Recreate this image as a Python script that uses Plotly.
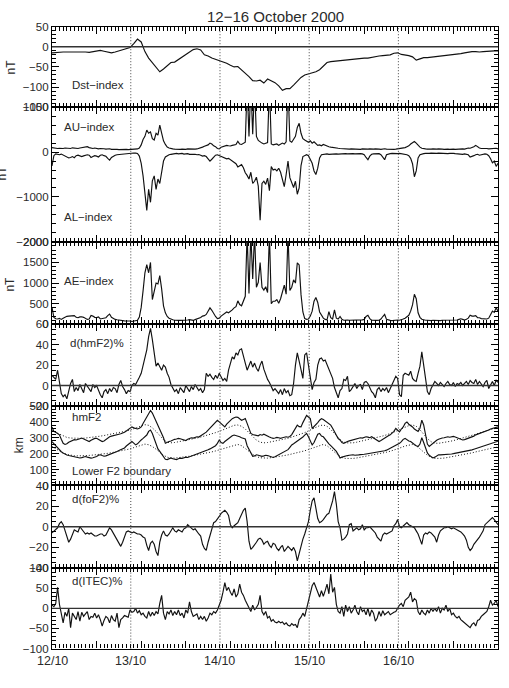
import numpy as np
import plotly.graph_objects as go

# ---------------- data (hours from axis start) ----------------
STEP = 0.5            # sampling of the noisy series, hours
day_lines = [21.2, 45.2, 69.2, 93.2]
day_labels = ["12/10", "13/10", "14/10", "15/10", "16/10"]
day_label_pos = [0, 21.2, 45.2, 69.2, 93.2]

# Dst, hourly
dst = [-15, -14, -14, -13, -13, -13, -12, -13, -12, -13,
       -14, -12, -10, -9, -11, -13, -15, -13, -10, -7,
       -4, -2, 8, 19, 12, -12, -28, -40, -52, -62,
       -55, -48, -39, -38, -32, -25, -19, -13, -7, -5,
       -8, -20, -23, -28, -31, -34, -37, -41, -46, -50,
       -49, -57, -64, -74, -84, -85, -83, -90, -80, -84,
       -89, -97, -108, -104, -104, -95, -85, -76, -70, -67,
       -64, -62, -57, -48, -39, -37, -36, -35, -33, -32,
       -32, -31, -30, -29, -28, -28, -26, -24, -23, -22,
       -21, -20, -16, -15, -19, -20, -22, -25, -33, -30,
       -27, -27, -26, -25, -24, -23, -22, -21, -20, -18,
       -17, -15, -13, -12, -12, -13, -12, -11, -11, -10,
       -10]

au = [100, 90, 95, 80, 85, 75, 80, 90, 85, 70, 80, 95, 85, 75, 80, 90, 100, 95, 110, 120,
      100, 85, 80, 90, 75, 70, 80, 85, 75, 65, 70, 75, 60, 65, 70, 60, 55, 60, 65, 55, 60, 55,
      60, 55, 65, 60, 70, 90,
      160, 280, 350, 490, 420, 450, 300, 270, 420, 380, 600, 420, 250, 170, 110, 90, 75, 70, 65,
      60, 55, 60, 65, 55, 60, 70, 65, 60, 55, 65, 70, 80, 95,
      110, 130, 140, 160, 200, 180, 140, 120, 80, 70,
      110, 125, 130, 150, 140, 135, 150, 160, 170, 240, 180, 170, 200, 220,
      1500, 350, 1500, 400, 1500, 350,
      260, 220, 200, 180, 190, 210, 1500, 180, 160, 170,
      180, 150, 170, 200, 180, 230, 1500, 250, 220, 290, 350, 550, 640, 420, 300, 270, 240, 220, 250, 200,
      230, 180, 150, 160, 140, 170, 150, 140, 120, 110, 100, 95, 90, 85, 80, 75, 70, 75, 70, 65,
      70, 65, 75, 70, 65, 60, 70, 65, 60, 65, 70, 60, 65, 70, 60, 65, 60, 70, 75, 65,
      60, 70, 65, 60, 65, 70, 75, 80, 90, 100,
      120, 140, 180, 210, 235, 200, 150, 110, 85, 70,
      70, 65, 60, 65, 70, 60, 65, 70, 60, 65, 60, 70, 65, 60, 70, 65, 60, 65, 70, 75,
      70, 65, 80, 90, 85, 100, 120, 150, 110, 90, 80, 85, 90, 80, 70, 75, 80, 90, 85, 70]

al = [-310, -80, -40, -50, -60, -45, -70, -90, -110, -130, -120, -100, -125, -80, -70, -90, -100, -85,
      -75, -60, -70, -120, -100, -80, -90, -110, -70, -60, -80, -95, -140, -180, -120, -90, -70, -60,
      -55, -40, -35, -30, -25, -30,
      -20, -15, -20, -25, -30, -90,
      -250, -530, -900, -1300, -830, -1120, -640, -530, -830, -600, -700, -440, -200, -110, -80, -60, -50, -40, -35,
      -30, -40, -35, -30, -45, -40, -35, -50, -45, -40, -50, -60, -55, -70,
      -90, -80, -100, -150, -200, -160, -110, -70, -60, -80,
      -90, -110, -130, -150, -140, -170, -200, -240, -260, -330, -300, -280, -350, -460,
      -520, -600, -450, -700, -650, -560,
      -760, -1520, -700, -650, -720, -580, -860, -320, -400, -380,
      -420, -360, -450, -600, -770, -500, -200, -570, -680, -790, -650, -940, -800, -300, -100, -70, -60, -80, -150, -250,
      -420, -500, -360, -130, -60, -50, -45, -40, -50, -45, -40, -35, -40, -45, -40, -35, -30, -35, -40, -35,
      -30, -35, -40, -35, -30, -35, -40, -60, -120, -170, -90, -50, -40, -35, -40, -35, -60, -120, -170, -60,
      -40, -35, -30, -35, -40, -35, -30, -35, -40, -50,
      -60, -80, -140, -260, -550, -420, -130, -60, -40, -35,
      -30, -35, -30, -25, -30, -35, -30, -25, -30, -35, -40, -30, -35, -30, -25, -30, -35, -40, -50, -60,
      -50, -40, -45, -60, -110, -100, -80, -60, -50, -70, -60, -50, -40, -50, -80, -150, -240, -200, -320, -250]

ae = [410, 170, 135, 130, 145, 120, 150, 180, 195, 200, 205, 195, 210, 170, 160, 180, 185, 170, 150, 120,
      130, 215, 200, 170, 165, 180, 130, 145, 155, 160, 210, 250, 170, 140, 120, 110, 100, 90, 95, 85, 80, 85,
      80, 70, 85, 85, 100, 180,
      410, 810, 1250, 1450, 1250, 1500, 600, 800, 1000, 980, 1180, 860, 450, 280, 190, 150, 125, 110, 100,
      90, 95, 95, 95, 100, 100, 105, 115, 105, 95, 115, 130, 135, 165,
      200, 210, 240, 310, 400, 340, 250, 190, 140, 150,
      200, 235, 260, 300, 280, 305, 350, 400, 430, 570, 480, 450, 550, 680,
      2200, 750, 2200, 1100, 2200, 900,
      1020, 1500, 900, 830, 910, 770, 2200, 500, 560, 560,
      600, 510, 620, 800, 950, 730, 2200, 820, 900, 1080, 1000, 1490, 1440, 720, 300, 140, 120, 130, 200, 320,
      560, 650, 530, 300, 210, 150, 120, 110, 310, 160, 130, 350, 150, 130, 190, 120, 100, 110, 105, 100,
      100, 100, 105, 100, 95, 100, 110, 120, 190, 220, 140, 100, 95, 100, 95, 100, 130, 190, 240, 120,
      100, 95, 90, 100, 110, 105, 100, 110, 130, 150,
      180, 220, 320, 470, 730, 620, 280, 170, 125, 105,
      100, 100, 90, 90, 100, 95, 95, 95, 90, 100, 100, 100, 100, 90, 95, 95, 95, 105, 120, 135,
      120, 105, 125, 150, 220, 200, 200, 210, 160, 160, 140, 135, 130, 130, 150, 225, 320, 290, 405, 320]

d_hmf2 = [10, 8, 6, 15, 5, -8, -11, -9, -13, -4, 2, 6, -6, -2, -5, 1, -3, -7, 2, -1,
          -4, -6, 1, -2, 0, -5, -9, -12, -6, -4, -8, -3, -6, -2, -3, -7, 1, 5, -1, -4, -8, -5,
          -6, 0, 2, 1, 4, 8,
          12, 19, 28, 35, 48, 56, 45, 30, 19, 22, 18, 15, 20, 18, 12, 8, 1, -3, -6,
          -4, -8, -2, -5, -7, 0, -3, -6, -1, -4, 1, -2, -5, -3,
          -7, -4, 12, 9, 11, 8, 6, 10, 7, 12,
          9, 5, 7, 4, 15, 22, 28, 26, 32, 30, 35, 36, 30, 22,
          15, 20, 24, 18, 22, 17,
          14, 20, 24, 16, 10, 6, 3, -1, -5, -3,
          -6, -8, -4, -9, -3, -7, -5, -10, -9, 2, 20, 32, 24, 15, 7, 30, 32, 20, 5, -4,
          3, 6, 20, 26, 27, 24, 25, 20, 15, 10, 7, -2, -8, -12, -5, -3, 6, 5, 9, -6,
          -4, -1, 2, -3, 0, 1, -4, 3, 4, 2, -2, -6, -8, -12, -4, -2, -6, -3, -5, -2,
          -7, -3, 1, 4, 9, 7, -9, -11, 10, 12,
          11, 10, 14, 7, 5, 4, 12, 19, 33, 22,
          7, -6, -9, -3, 1, 4, 2, 0, 3, 1, -1, 2, 4, 1, 0, 3, -1, 2, 1, 3,
          0, 2, 4, 1, 5, 3, 2, 6, 1, 4, 2, -1, 3, 5, -3, 1, 4, 0, 5, 3]

hmf2 = [368, 340, 335, 325, 318, 290, 265, 258, 262, 272, 276, 282, 288, 286, 292, 294, 298, 292, 285, 280,
        276, 284, 290, 296, 296, 288, 282, 276, 280, 290, 300, 306, 310, 312, 316, 318, 322, 325, 328, 335,
        342, 350,
        358, 368, 362, 358, 355, 360,
        368, 390, 410, 430, 452, 471, 455, 430, 400, 379, 350, 327, 300, 265, 272, 276, 280, 286, 290,
        292, 296, 294, 290, 285, 282, 290, 296, 300, 298, 302, 306, 304, 312,
        318, 327, 335, 348, 360, 368, 380, 395, 410, 400,
        389, 378, 368, 385, 399, 410, 420, 425, 430, 428, 420, 410, 415, 420,
        390, 358, 327, 320, 318, 317,
        312, 320, 316, 322, 318, 312, 305, 300, 296, 298,
        302, 300, 296, 300, 304, 306, 303, 308, 320, 337, 355, 379, 370, 368, 395, 420, 440, 430, 420, 358,
        370, 379, 395, 410, 420, 415, 405, 399, 390, 379, 360, 337, 315, 295, 286, 270, 265, 272, 276, 280,
        284, 286, 290, 294, 296, 300, 298, 302, 306, 304, 300, 306, 298, 290, 285, 276, 282, 290, 300, 306,
        312, 318, 327, 340, 358, 345, 337, 355, 368, 390,
        399, 385, 379, 368, 355, 348, 340, 360, 410, 380,
        310, 260, 245, 255, 268, 276, 284, 290, 296, 298, 300, 304, 306, 303, 306, 308, 305, 300, 296, 290,
        286, 288, 292, 296, 300, 305, 310, 318, 322, 327, 330, 334, 337, 342, 348, 355, 358, 362, 365, 368]

lower_f2 = [276, 262, 248, 235, 226, 212, 204, 196, 192, 188, 186, 183, 180, 176, 174, 173, 175, 178, 182, 178,
            174, 172, 174, 176, 182, 190, 193, 188, 184, 186, 190, 196, 200, 204, 208, 214, 220, 224, 230, 236,
            248, 258,
            265, 276, 266, 255, 262, 276,
            286, 296, 310, 317, 340, 348, 327, 290, 255, 230, 214, 195, 183, 165, 163, 170, 173, 168, 165,
            163, 168, 172, 170, 174, 178, 176, 180, 185, 190, 193, 196, 200, 204,
            208, 214, 220, 224, 230, 235, 240, 250, 265, 286,
            270, 265, 276, 285, 296, 306, 312, 317, 314, 308, 306, 300, 296, 292,
            250, 224, 200, 183, 186, 193,
            190, 186, 183, 186, 190, 188, 184, 180, 176, 180,
            186, 193, 198, 204, 210, 214, 225, 240, 255, 262, 270, 276, 285, 296, 305, 316, 327, 306, 280, 255,
            270, 296, 322, 327, 310, 306, 290, 276, 262, 250, 240, 225, 214, 195, 173, 178, 183, 186, 188, 190,
            192, 193, 190, 193, 192, 194, 193, 196, 198, 200, 202, 204, 203, 206, 208, 210, 212, 214, 218, 222,
            228, 235, 240, 248, 255, 262, 265, 275, 290, 296,
            286, 280, 276, 265, 258, 250, 245, 260, 300, 270,
            230, 205, 190, 180, 173, 178, 186, 193, 192, 193, 190, 193, 195, 196, 198, 200, 202, 204, 206, 208,
            210, 212, 214, 217, 220, 224, 228, 232, 236, 240, 245, 250, 254, 258, 262, 266, 270, 272, 274, 278]

# quiet-time medians, hourly (dotted)
hmf2_median = [345, 335, 322, 310, 302, 298,
               296, 295, 296, 298, 300, 303, 306, 310, 314, 318, 322, 327, 332, 337, 342,
               348, 356, 366, 376, 382, 378,
               362, 340, 312, 288, 272, 268,
               270, 274, 278, 283, 288, 293, 298, 304, 310, 317, 324, 332, 340, 350, 360,
               370, 378, 380, 372, 355, 330, 305,
               285, 272, 268, 270,
               274, 278, 283, 288, 294, 300, 307, 314, 322, 332, 343, 355, 367, 376,
               380, 372, 352, 325, 298, 278,
               268, 266, 268, 272, 277, 282, 287, 292, 298, 304, 311, 318, 326, 335, 345, 356, 367, 376,
               380, 372, 350, 322, 295, 275,
               266, 265, 268, 272, 277, 282, 288, 294, 300, 307, 314, 322, 330, 338, 346, 352, 357, 360]

lower_median = [245, 230, 215, 203, 195, 190,
                187, 186, 186, 187, 189, 191, 193, 196, 199, 202, 206, 210, 214, 219, 224,
                230, 238, 247, 255, 260, 256,
                245, 228, 208, 190, 178, 172,
                172, 174, 177, 180, 184, 188, 192, 196, 200, 205, 211, 217, 224, 232, 240,
                248, 255, 258, 250, 235, 215, 196,
                182, 174, 171, 172,
                175, 178, 182, 186, 190, 195, 200, 205, 211, 218, 226, 235, 245, 254,
                258, 250, 232, 210, 190, 176,
                170, 169, 170, 173, 177, 181, 185, 189, 193, 198, 203, 209, 215, 222, 230, 239, 248, 255,
                258, 250, 232, 210, 190, 176,
                170, 169, 171, 174, 178, 182, 186, 190, 195, 200, 205, 211, 217, 223, 229, 234, 238, 241]

d_fof2 = [-6, -4, -2, -1, 3, 5, 2, -4, -8, -15, -12, -7, -3, -4, -5, 0, -2, -4, -7, -6,
          -7, -6, -8, -9, -9, -8, -7, -7, -9, -8, -4, -1, -3, -6, -9, -12, -16, -19, -15, -10, -5, -4,
          -5, -6, -5, -6, -7, -7,
          -8, -10, -11, -18, -23, -16, -14, -17, -24, -28, -15, -8, -4, -8, -9, -7, -4, -1, -4,
          -5, -3, -4, -5, -2, -1, 2, 0, -1, -3, -2, -5, -7, -9,
          -17, -21, -23, -15, -8, -2, 4, 5, 7, 10,
          13, 15, 16, 14, 11, 2, -1, 1, 3, 4, 8, 12, 16, 18,
          5, -14, -22, -20, -18, -15,
          -12, -11, -13, -17, -15, -14, -18, -20, -16, -17,
          -21, -23, -20, -18, -24, -22, -19, -21, -23, -20, -24, -33, -25, -17, -12, -7, -2, 5, 16, 25,
          28, 17, 8, 4, 5, 7, 10, 12, 13, 18, 25, 34, 22, 5, -1, -13, -12, -10, -7, 2,
          3, -4, -2, -1, -3, -2, 2, -3, -1, -1, 0, -2, -5, -6, -10, -12, -14, -8, -6, -7,
          -6, -5, -4, 1, 3, 7, 0, -1, 1, 3,
          4, 2, 1, 0, -1, -4, -7, -12, -17, -8,
          -6, -7, -5, -6, -8, -10, -15, -8, -4, -2, -1, -1, 0, -1, -2, -1, -2, -3, -4, -5,
          -7, -9, -13, -20, -23, -21, -17, -15, -12, -10, -7, -4, 2, 4, 5, 7, 9, 7, 5, 2]

d_itec = [8, 4, 12, 52, 10, -12, -36, -10, -20, 0, -48, -12, -22, -28, -8, -32, -10, -20, -14, -8,
          -28, -20, -22, -12, -24, -16, -28, -44, -30, -20, -24, -36, -18, -28, -32, -12, -48, -28, -24, -18,
          -20, -22,
          -4, -10, -8, 0, -12, -6,
          -16, -12, -20, -24, -8, -20, -10, -18, -8, -14, 12, 32, -12, -28, -8, -14, -4, -18, -8,
          -16, -4, -18, -12, -24, -4, -12, 16, -8, -20, -16, -14, -28, -20,
          -28, -20, -32, -24, -12, -16, -8, -12, -4, 8,
          20, 40, 64, 44, 52, 40, 32, 48, 28, 36, 60, 40, 32, 20,
          10, 0, -8, 8, -4, 2,
          10, 32, -8, -16, -8, -24, -20, -32, -28, -34,
          -36, -32, -36, -34, -40, -36, -42, -44, -38, -42, -40, -48, -28, -22, -12, -20, 0, 20, 36, 56,
          64, 52, 36, 28, 44, 30, 44, 60, 36, 85, 40, 52, 10, -8, -12, 4, -20, 8, -8, 4,
          -12, -4, 8, -8, -16, 4, -8, -4, -16, 0, -20, -4, -12, -32, -24, -8, -20, -6, -16, -12,
          -8, -16, -12, -10, -8, 0, 8, 12, 4, 20,
          24, 28, 40, 16, 24, 20, -8, -16, -4, -12,
          -16, -4, -12, 0, -8, 0, -8, 4, -12, 0, -4, 8, -8, 0, -16, -12, -20, -24, -20, -28,
          -32, -36, -40, -44, -48, -40, -36, -44, -30, -28, -20, -16, -12, -8, 4, 20, 8, 12, 20, 4]

# ---------------- layout geometry ----------------
W, H = 509, 688
L_PX, R_PX = 52, 498
bounds = [21, 103, 240, 324, 407, 488, 572, 654]
FONT = "Liberation Sans, Arial, sans-serif"
INK = "#111111"
TICK = "#000000"
DOTS = "1px,2px"


def py(px):
    return 1 - px / H


def sfx(k):
    return "" if k == 1 else str(k)


def times(arr, step):
    return np.arange(len(arr)) * step


panels = [
    dict(rng=[-150, 50], ticks=[-150, -100, -50, 0, 50], minor=10, zero=True),
    dict(rng=[-2000, 1000], ticks=[-2000, -1000, 0, 1000], minor=200, zero=False),
    dict(rng=[0, 2000], ticks=[0, 500, 1000, 1500, 2000], minor=100, zero=False),
    dict(rng=[-20, 60], ticks=[-20, 0, 20, 40, 60], minor=5, zero=True),
    dict(rng=[0, 500], ticks=[0, 100, 200, 300, 400, 500], minor=20, zero=False),
    dict(rng=[-40, 40], ticks=[-40, -20, 0, 20, 40], minor=5, zero=True),
    dict(rng=[-100, 100], ticks=[-100, -50, 0, 50, 100], minor=10, zero=True),
]

fig = go.Figure()


def add_line(arr, step, k, dash="solid", width=1.15):
    fig.add_trace(go.Scatter(
        x=times(arr, step), y=arr, mode="lines",
        line=dict(color=INK, width=width, dash=dash),
        xaxis=f"x{sfx(k)}", yaxis=f"y{sfx(k)}", showlegend=False, hoverinfo="skip"))


add_line(dst, 1.0, 1)
add_line(au, STEP, 2)
add_line(al, STEP, 2)
add_line(ae, STEP, 3)
add_line(d_hmf2, STEP, 4)
add_line(hmf2_median, 1.0, 5, dash=DOTS, width=1)
add_line(lower_median, 1.0, 5, dash=DOTS, width=1)
add_line(hmf2, STEP, 5)
add_line(lower_f2, STEP, 5)
add_line(d_fof2, STEP, 6)
add_line(d_itec, STEP, 7)

layout = dict(
    width=W, height=H, autosize=False,
    margin=dict(l=0, r=0, t=0, b=0),
    paper_bgcolor="white", plot_bgcolor="white",
    font=dict(family=FONT, size=11, color=INK),
    showlegend=False,
)

shapes = []
for k, p in enumerate(panels, start=1):
    top, bot = bounds[k - 1], bounds[k]
    s = sfx(k)
    lo, hi = p["rng"]
    pad = (hi - lo) * 1e-5   # keeps the end tick labels inside the range
    layout[f"xaxis{s}"] = dict(
        domain=[L_PX / W, R_PX / W], anchor=f"y{s}", range=[0, 120],
        tickmode="linear", tick0=0, dtick=12, ticks="inside", ticklen=7,
        tickwidth=1, tickcolor=TICK, showline=True, linecolor=TICK, linewidth=1.2,
        mirror="ticks", showgrid=False, zeroline=False, showticklabels=False,
        minor=dict(tick0=0, dtick=1, ticks="inside", ticklen=4, tickwidth=1,
                   tickcolor=TICK, showgrid=False),
    )
    layout[f"yaxis{s}"] = dict(
        domain=[py(bot), py(top)], anchor=f"x{s}", range=[lo - pad, hi + pad],
        tickmode="array", tickvals=p["ticks"],
        ticktext=[str(v).replace("-", "\u2212") for v in p["ticks"]],
        ticks="inside", ticklen=7, tickwidth=1, tickcolor=TICK,
        showline=True, linecolor=TICK, linewidth=1.2, mirror="ticks",
        showgrid=False, zeroline=False,
        tickfont=dict(family=FONT, size=11.5, color="#2a2a2a"),
        minor=dict(tick0=lo, dtick=p["minor"], ticks="inside", ticklen=4,
                   tickwidth=1, tickcolor=TICK, showgrid=False),
    )
    for d in day_lines:
        shapes.append(dict(type="line", xref=f"x{s}", yref=f"y{s} domain",
                           x0=d, x1=d, y0=0, y1=1,
                           line=dict(color="#444", width=1, dash=DOTS)))
    if p["zero"]:
        shapes.append(dict(type="line", xref=f"x{s} domain", yref=f"y{s}",
                           x0=0, x1=1, y0=0, y1=0,
                           line=dict(color="#333", width=1.3)))
layout["shapes"] = shapes

ann = []


def text(s, xpx, ypx, size=11.5, xanchor="left", angle=0):
    ann.append(dict(text=s, xref="paper", yref="paper", x=xpx / W, y=py(ypx),
                    xanchor=xanchor, yanchor="middle", showarrow=False, textangle=angle,
                    font=dict(family=FONT, size=size, color="#2a2a2a")))


text("12\u221216 October 2000", 275, 10.5, size=15, xanchor="center")
text("Dst\u2212index", 70, 80)
text("AU\u2212index", 62, 123)
text("AL\u2212index", 62, 215)
text("AE\u2212index", 62, 280)
text("d(hmF2)%", 68, 343)
text("hmF2", 70, 418)
text("Lower F2 boundary", 70, 473)
text("d(foF2)%", 70, 502)
text("d(ITEC)%", 70, 585)
text("nT", 10.5, 62, size=12, xanchor="center", angle=-90)
text("nT", 2.5, 170, size=12, xanchor="center", angle=-90)
text("nT", 10.5, 283, size=12, xanchor="center", angle=-90)
text("km", 18.5, 447.5, size=12, xanchor="center", angle=-90)

for lab, pos in zip(day_labels, day_label_pos):
    ann.append(dict(text=lab, xref="x7", yref="paper", x=pos, y=py(667),
                    xanchor="center", yanchor="middle", showarrow=False,
                    font=dict(family=FONT, size=12.5, color="#2a2a2a")))
layout["annotations"] = ann

fig.update_layout(**layout)
fig.write_html("out.html")
